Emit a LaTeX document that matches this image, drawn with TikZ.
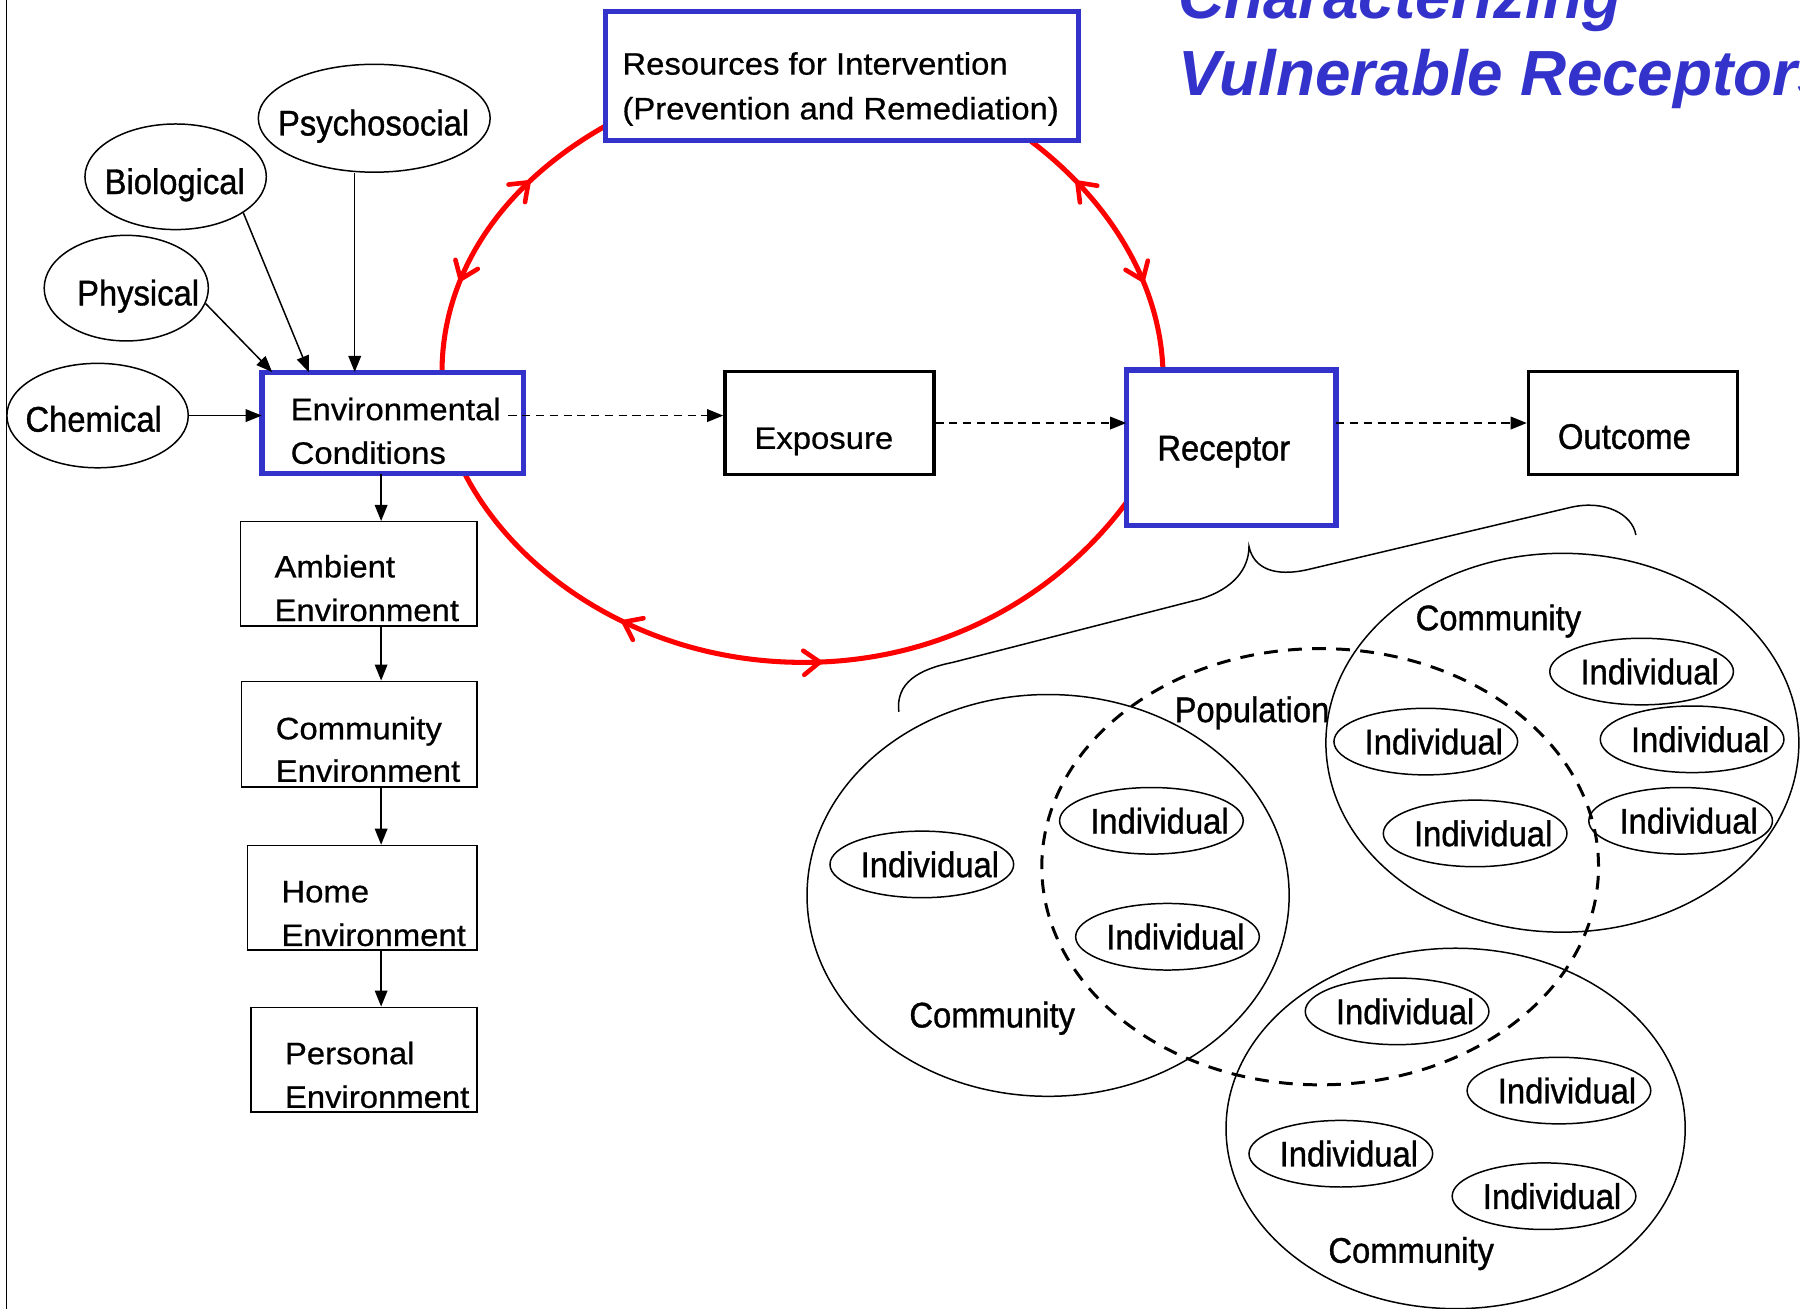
\documentclass[tikz,border=0pt]{standalone}
\usepackage{fontspec}
\setmainfont{Liberation Sans}
\newfontfamily\nfont[FakeStretch=0.92,FakeBold=1]{Liberation Sans}
\newfontfamily\bxfont[FakeStretch=1.06,FakeBold=0.6]{Liberation Sans}
\usetikzlibrary{arrows.meta,shapes.geometric,decorations.markings}
\definecolor{tblue}{RGB}{51,51,204}
\definecolor{tred}{RGB}{255,0,0}
\begin{document}
\begin{tikzpicture}[x=1pt,y=-1pt,
  bluebox/.style={draw=tblue,line width=4.5pt,fill=white,inner sep=0pt},
  blackbox/.style={draw=black,line width=3pt,fill=white,inner sep=0pt},
  thinbox/.style={draw=black,line width=1.3pt,fill=white,inner sep=0pt},
  oval/.style={draw=black,line width=1.3pt,ellipse,inner sep=0pt},
  ntxt/.style={anchor=base west,inner sep=0pt,font=\nfont\fontsize{31}{37}\selectfont},
  btxt/.style={anchor=base west,inner sep=0pt,font=\bxfont\fontsize{27}{32}\selectfont},
  arr/.style={line width=1.3pt,-{Triangle[length=14pt,width=11pt]}},
  darr/.style={arr,dash pattern=on 7pt off 5pt},
  redline/.style={draw=tred,line width=4.4pt,>={Straight Barb[length=14pt,width=21pt,line width=4pt,round]}}
]
\useasboundingbox (0,0) rectangle (1568,1140);
\clip (0,0) rectangle (1568,1140);

% left border
\draw[line width=1pt] (6,0) -- (6,1140);

% ---- anchor nodes for the boxes that the red loop joins ----
\node[minimum width=227.5pt,minimum height=88.5pt,inner sep=0pt] (env) at (342,368.5) {};
\node[minimum width=412.5pt,minimum height=112.5pt,inner sep=0pt] (res) at (733.5,66.5) {};
\node[minimum width=182.5pt,minimum height=135.5pt,inner sep=0pt] (rec) at (1072.5,390) {};

% ---- red loop ----
\draw[redline,decoration={markings,mark=at position 0.3 with {\arrowreversed{>}},mark=at position 0.7 with {\arrow{>}}},postaction={decorate}]
  ([xshift=157pt]env.north west) .. controls (385,245) and (430,165) .. ([yshift=13pt]res.south west);
\draw[redline,decoration={markings,mark=at position 0.28 with {\arrowreversed{>}},mark=at position 0.545 with {\arrow{>}}},postaction={decorate}]
  ([xshift=177pt]env.south west) .. controls (450,500) and (560,577) .. (700,577)
  .. controls (820,577) and (920,520) .. ([yshift=20pt]rec.south west);
\draw[redline,decoration={markings,mark=at position 0.33 with {\arrowreversed{>}},mark=at position 0.78 with {\arrow{>}}},postaction={decorate}]
  ([xshift=32pt]rec.north west) .. controls (1010,240) and (960,170) .. ([xshift=371pt]res.south west);

% ---- visible boxes ----
\node[bluebox,minimum width=227.5pt,minimum height=88.5pt] (envb) at (env) {};
\node[bluebox,minimum width=412.5pt,minimum height=112.5pt] (resb) at (res) {};
\node[bluebox,minimum width=182.5pt,minimum height=135.5pt] (recb) at (rec) {};
\node[blackbox,minimum width=182pt,minimum height=90pt] (expo) at (722.5,368.5) {};
\node[blackbox,minimum width=182pt,minimum height=90pt] (outc) at (1422.5,368.5) {};
\node[thinbox,minimum width=206pt,minimum height=91pt] (amb) at (312.5,500) {};
\node[thinbox,minimum width=205pt,minimum height=92pt] (comm) at (313,639.5) {};
\node[thinbox,minimum width=200pt,minimum height=91pt] (home) at (315.5,782) {};
\node[thinbox,minimum width=197pt,minimum height=91pt] (pers) at (317,923) {};

% ---- source ellipses ----
\node[oval,minimum width=202pt,minimum height=94pt] (psy) at (326,103) {};
\node[oval,minimum width=158pt,minimum height=92pt] (bio) at (153,154) {};
\node[oval,minimum width=143pt,minimum height=92pt] (phy) at (110,251) {};
\node[oval,minimum width=158pt,minimum height=91pt] (chem) at (85,362) {};
\node[ntxt] (psyT) at (242,118) {Psychosocial};
\node[ntxt] (bioT) at (91,169) {Biological};
\node[ntxt] (phyT) at (67,266) {Physical};
\node[ntxt] (chemT) at (22,376) {Chemical};

% ---- texts in boxes ----
\node[btxt] (envT1) at (253,366) {Environmental};
\node[btxt] (envT2) at (253,404) {Conditions};
\node[btxt] (resT1) at (542,65) {Resources for Intervention};
\node[btxt] (resT2) at (542,104) {(Prevention and Remediation)};
\node[btxt] (expoT) at (657,391) {Exposure};
\node[ntxt] (recT) at (1008,401) {Receptor};
\node[ntxt] (outT) at (1357,391) {Outcome};
\node[btxt] (ambT1) at (239,503) {Ambient};
\node[btxt] (ambT2) at (239,541) {Environment};
\node[btxt] (commT1) at (240,644) {Community};
\node[btxt] (commT2) at (240,681) {Environment};
\node[btxt] (homeT1) at (245,786) {Home};
\node[btxt] (homeT2) at (245,824) {Environment};
\node[btxt] (persT1) at (248,927) {Personal};
\node[btxt] (persT2) at (248,965) {Environment};

% ---- arrows into Environmental Conditions ----
\draw[arr] ([xshift=-17pt]psy.south) -- ([xshift=-17pt]psy.south |- env.north);
\draw[arr] (bio.-28) -- ([xshift=41pt]env.north west);
\draw[arr] (phy.-11) -- ([xshift=9pt]env.north west);
\draw[arr] (chem.east) -- (chem.east -| env.west);

% ---- dashed chain ----
\draw[darr] ([xshift=-13pt,yshift=6.5pt]env.east) -- ([yshift=6.5pt]expo.west);
\draw[darr] (expo.east) -- (expo.east -| rec.west);
\draw[darr] (outc.west -| rec.east) -- (outc.west);

% ---- column arrows ----
\coordinate (colx) at (332,0);
\draw[arr] (env.south -| colx) -- (amb.north -| colx);
\draw[arr] (amb.south -| colx) -- (comm.north -| colx);
\draw[arr] (comm.south -| colx) -- (home.north -| colx);
\draw[arr] (home.south -| colx) -- (pers.north -| colx);

% ---- brace ----
\draw[line width=1.3pt] (783,620) .. controls (780,595) and (800,583) .. (830,577) -- (1045,522)
  .. controls (1075,513) and (1088,495) .. (1088,476)
  .. controls (1092,495) and (1110,503) .. (1140,496) -- (1368,442)
  .. controls (1398,435) and (1422,448) .. (1425,466);

% ---- communities and population ----
\node[oval,minimum width=420pt,minimum height=350pt] (c1) at (913,780) {};
\node[oval,minimum width=412pt,minimum height=330pt] (c2) at (1361,647) {};
\node[oval,minimum width=400pt,minimum height=314pt] (c3) at (1268,983) {};
\node[oval,dash pattern=on 12pt off 9pt,line width=2.6pt,minimum width=485pt,minimum height=380pt] (pop) at (1150,755) {};
\node[ntxt] (popT) at (1023,629) {Population};
\node[ntxt] (c2T) at (1233,549) {Community};
\node[ntxt] (c1T) at (792,895) {Community};
\node[ntxt] (c3T) at (1157,1100) {Community};

\foreach \x/\y [count=\i] in {803/753, 1003/715, 1017/816, 1430/585, 1242/646, 1474/644, 1285/726, 1464/715, 1217/881, 1358/950, 1168/1005, 1345/1042} {
  \node[oval,minimum width=160pt,minimum height=58pt] (ind\i) at (\x,\y) {};
  \node[ntxt,anchor=center] (indt\i) at ([xshift=7pt]ind\i.center) {Individual};
}

% ---- title ----
\node[anchor=base west,inner sep=0pt,text=tblue,font=\bfseries\itshape\fontsize{55.6}{67}\selectfont] (title1) at (1026,16) {Characterizing};
\node[anchor=base west,inner sep=0pt,text=tblue,font=\bfseries\itshape\fontsize{55.6}{67}\selectfont] (title2) at (1026,83) {Vulnerable Receptors};
\end{tikzpicture}
\end{document}
